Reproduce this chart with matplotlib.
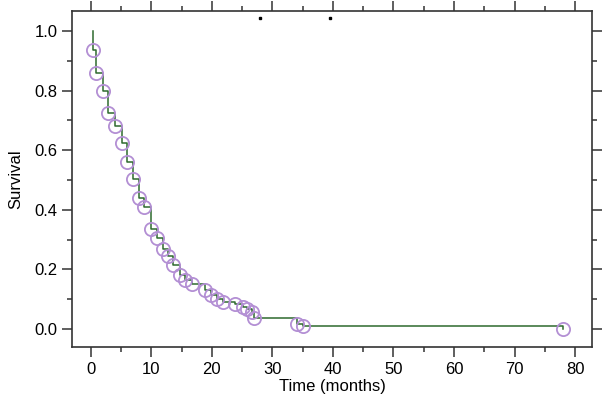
import numpy as np
import matplotlib.pyplot as plt

plt.rcParams['font.family'] = ['Liberation Sans', 'DejaVu Sans']

# event times (months) and survival after each event
times = [0.3, 0.8, 2.0, 2.8, 4.0, 5.1, 6.0, 6.9, 7.9, 8.8, 10.0, 10.9, 11.9,
         12.7, 13.6, 14.7, 15.5, 16.7, 18.8, 19.8, 20.8, 21.8, 23.8, 25.1,
         25.8, 26.6, 27.0, 34.0, 35.0, 78.0]
surv = [0.935, 0.86, 0.80, 0.725, 0.68, 0.625, 0.56, 0.505, 0.44, 0.41, 0.335,
        0.305, 0.27, 0.245, 0.215, 0.18, 0.165, 0.15, 0.13, 0.115, 0.10, 0.09,
        0.085, 0.075, 0.068, 0.057, 0.037, 0.017, 0.012, 0.0]
stray_x = [27.9, 39.5]
stray_y = [1.045, 1.045]

fig = plt.figure(figsize=(6.02, 4.05), dpi=100)
ax = fig.add_axes([0.1196, 0.1432, 0.8638, 0.8296])

xs = [times[0]] + times
ys = [1.0] + surv
ax.step(xs, ys, where='post', color='#2d6a2d', lw=1.1, zorder=2)
ax.plot(times, surv, 'o', ms=9.5, mfc='none', mec='#b38fd4', mew=1.3, zorder=3)
ax.plot(stray_x, stray_y, 's', ms=2, color='black', zorder=4)

ax.set_xlim(-3.1, 82.8)
ax.set_ylim(-0.06, 1.067)
ax.set_xticks(np.arange(0, 81, 10))
ax.set_xticks(np.arange(5, 80, 10), minor=True)
ax.set_yticks(np.arange(0, 1.01, 0.2))
ax.set_yticks(np.arange(0.1, 1.0, 0.2), minor=True)
ax.set_yticklabels(['0.0', '0.2', '0.4', '0.6', '0.8', '1.0'])
ax.tick_params(which='both', direction='out', top=True, right=True,
               labeltop=False, labelright=False, color='#333333', width=1.1,
               labelsize=12)
ax.tick_params(which='major', length=7)
ax.tick_params(which='minor', length=3.5)
for s in ax.spines.values():
    s.set_linewidth(1.2)
    s.set_color('#333333')

ax.set_xlabel('Time (months)', fontsize=12, labelpad=2)
ax.set_ylabel('Survival', fontsize=12, labelpad=8)

fig.savefig('out.png', dpi=100)
